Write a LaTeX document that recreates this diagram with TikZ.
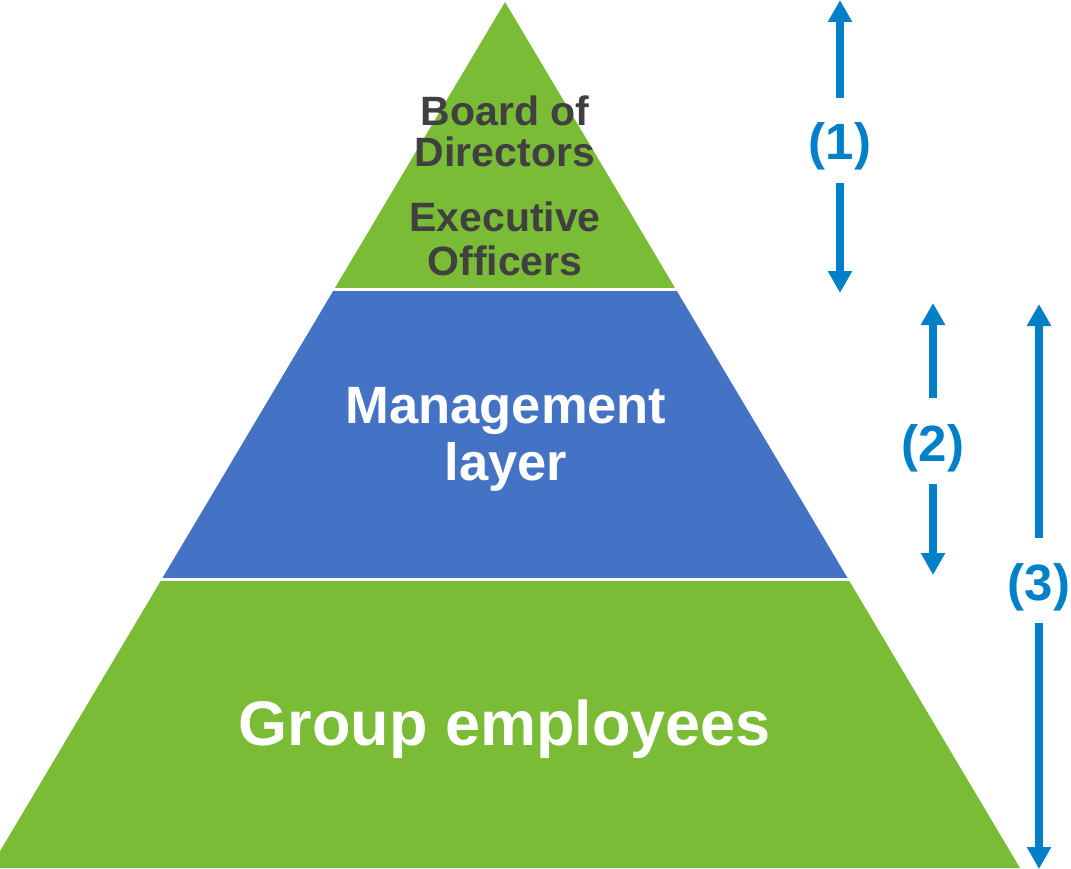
\documentclass[tikz,border=0pt]{standalone}
\usepackage{fontspec}
\setmainfont{Liberation Sans}
\usetikzlibrary{arrows.meta}
\definecolor{pyrgreen}{RGB}{123,188,55}
\definecolor{pyrblue}{RGB}{68,114,196}
\definecolor{arrowblue}{RGB}{0,128,200}
\definecolor{darktext}{RGB}{64,64,64}
\tikzset{
  lbl/.style={inner sep=0pt, anchor=base, align=center, font=\bfseries},
  numlbl/.style={inner sep=0pt, anchor=base, text=arrowblue, font=\fontsize{51}{60}\selectfont\bfseries},
  span/.style={draw=arrowblue, line width=8pt, -{Triangle[width=23pt,length=22pt]}},
}
\begin{document}
\begin{tikzpicture}[x=1pt,y=-1pt]
\useasboundingbox (0,0) rectangle (1071,869);
% pyramid layers
\begin{scope}
  \clip (505,2) -- (-10,868) -- (1020,868) -- cycle;
  \fill[pyrgreen] (-20,-5) rectangle (1030,287.5);
  \fill[pyrblue] (-20,290.5) rectangle (1030,577.5);
  \fill[pyrgreen] (-20,580.5) rectangle (1030,875);
\end{scope}
% texts
\node[lbl, text=darktext, font=\fontsize{41}{41}\selectfont\bfseries] (board) at (505,126) {Board of};
\node[lbl, text=darktext, font=\fontsize{41}{41}\selectfont\bfseries] (board2) at (505,167) {Directors};
\node[lbl, text=darktext, font=\fontsize{41}{41}\selectfont\bfseries] (exec) at (505,232) {Executive};
\node[lbl, text=darktext, font=\fontsize{41}{41}\selectfont\bfseries] (exec2) at (505,275) {Officers};
\node[lbl, text=white, font=\fontsize{52.5}{57}\selectfont\bfseries] (mgmt) at (506,423) {Management};
\node[lbl, text=white, font=\fontsize{52.5}{57}\selectfont\bfseries] (mgmt2) at (506,480) {layer};
\node[lbl, text=white, font=\fontsize{63}{64}\selectfont\bfseries] (group) at (505,745) {Group employees};
% span labels
\node[numlbl] (n1) at (840,160) {(1)};
\node[numlbl] (n2) at (933,461) {(2)};
\node[numlbl] (n3) at (1039,600) {(3)};
% arrow end points
\coordinate (n1top) at (840,98);   \coordinate (n1up) at (840,0);
\coordinate (n1bot) at (840,183);  \coordinate (n1down) at (840,293);
\coordinate (n2top) at (933,398);  \coordinate (n2up) at (933,303);
\coordinate (n2bot) at (933,484);  \coordinate (n2down) at (933,575);
\coordinate (n3top) at (1039,538); \coordinate (n3up) at (1039,304);
\coordinate (n3bot) at (1039,623); \coordinate (n3down) at (1039,869);
\draw[span] (n1top) -- (n1up);
\draw[span] (n1bot) -- (n1down);
\draw[span] (n2top) -- (n2up);
\draw[span] (n2bot) -- (n2down);
\draw[span] (n3top) -- (n3up);
\draw[span] (n3bot) -- (n3down);
\end{tikzpicture}
\end{document}
